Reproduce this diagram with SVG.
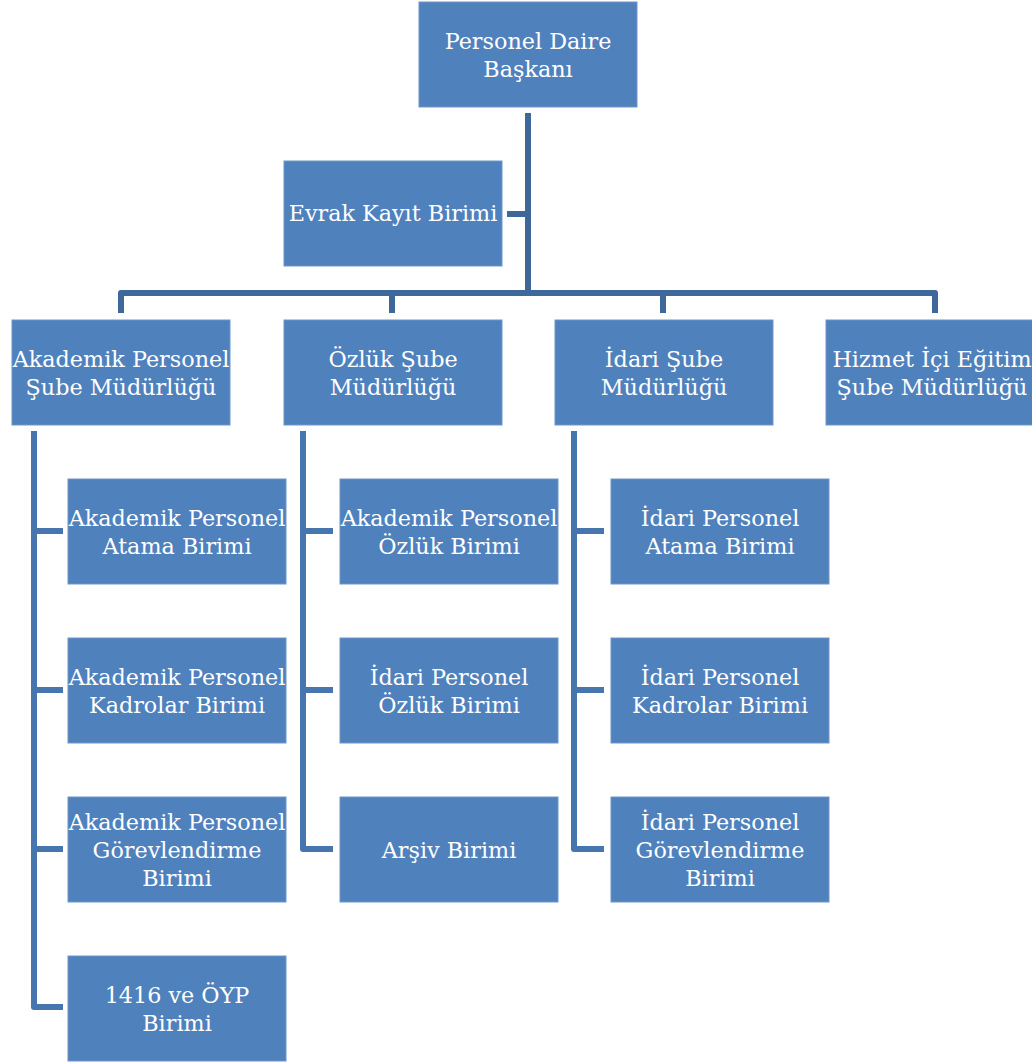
<svg xmlns="http://www.w3.org/2000/svg" width="1032" height="1063" viewBox="0 0 1032 1063">
<style>
.box{fill:#4F81BD;stroke:#6E96C8;stroke-width:1}
.t{font-family:"DejaVu Serif","Liberation Serif",serif;font-size:22.3px;fill:#FFFFFF;text-anchor:middle}
.c1{fill:none;stroke:#3E6899;stroke-width:6;stroke-linejoin:round}
.c2{fill:none;stroke:#4775AE;stroke-width:6;stroke-linejoin:round}
</style>
<rect width="1032" height="1063" fill="#FFFFFF"/>
<g id="connectors">
<path class="c1" d="M528 113V293"/>
<path class="c1" d="M507 214H528"/>
<path class="c1" d="M121 313V293H935V313"/>
<path class="c1" d="M392 293V313"/>
<path class="c1" d="M663 293V313"/>
<path class="c2" d="M34 431V1007H63"/>
<path class="c2" d="M34 531H63M34 690H63M34 849H63"/>
<path class="c2" d="M303 431V849H333"/>
<path class="c2" d="M303 531H333M303 690H333"/>
<path class="c2" d="M574 431V849H604"/>
<path class="c2" d="M574 531H604M574 690H604"/>
</g>
<g id="n-baskan"><rect class="box" x="419" y="2" width="218" height="105"/><text class="t" x="528" y="49">Personel Daire</text><text class="t" x="528" y="77">Başkanı</text></g>
<g id="n-evrak"><rect class="box" x="284" y="161" width="218" height="105"/><text class="t" x="393" y="221">Evrak Kayıt Birimi</text></g>
<g id="n-akademik"><rect class="box" x="12" y="320" width="218" height="105"/><text class="t" x="121" y="367">Akademik Personel</text><text class="t" x="121" y="395">Şube Müdürlüğü</text></g>
<g id="n-ozluk"><rect class="box" x="284" y="320" width="218" height="105"/><text class="t" x="393" y="367">Özlük Şube</text><text class="t" x="393" y="395">Müdürlüğü</text></g>
<g id="n-idari"><rect class="box" x="555" y="320" width="218" height="105"/><text class="t" x="664" y="367">İdari Şube</text><text class="t" x="664" y="395">Müdürlüğü</text></g>
<g id="n-hizmet"><rect class="box" x="826" y="320" width="218" height="105"/><text class="t" x="932" y="367">Hizmet İçi Eğitim</text><text class="t" x="932" y="395">Şube Müdürlüğü</text></g>
<g id="n-ap-atama"><rect class="box" x="68" y="479" width="218" height="105"/><text class="t" x="177" y="526">Akademik Personel</text><text class="t" x="177" y="554">Atama Birimi</text></g>
<g id="n-ap-kadro"><rect class="box" x="68" y="638" width="218" height="105"/><text class="t" x="177" y="685">Akademik Personel</text><text class="t" x="177" y="713">Kadrolar Birimi</text></g>
<g id="n-ap-gorev"><rect class="box" x="68" y="797" width="218" height="105"/><text class="t" x="177" y="830">Akademik Personel</text><text class="t" x="177" y="858">Görevlendirme</text><text class="t" x="177" y="886">Birimi</text></g>
<g id="n-1416"><rect class="box" x="68" y="956" width="218" height="105"/><text class="t" x="177" y="1003">1416 ve ÖYP</text><text class="t" x="177" y="1031">Birimi</text></g>
<g id="n-ap-ozluk"><rect class="box" x="340" y="479" width="218" height="105"/><text class="t" x="449" y="526">Akademik Personel</text><text class="t" x="449" y="554">Özlük Birimi</text></g>
<g id="n-ip-ozluk"><rect class="box" x="340" y="638" width="218" height="105"/><text class="t" x="449" y="685">İdari Personel</text><text class="t" x="449" y="713">Özlük Birimi</text></g>
<g id="n-arsiv"><rect class="box" x="340" y="797" width="218" height="105"/><text class="t" x="449" y="858">Arşiv Birimi</text></g>
<g id="n-ip-atama"><rect class="box" x="611" y="479" width="218" height="105"/><text class="t" x="720" y="526">İdari Personel</text><text class="t" x="720" y="554">Atama Birimi</text></g>
<g id="n-ip-kadro"><rect class="box" x="611" y="638" width="218" height="105"/><text class="t" x="720" y="685">İdari Personel</text><text class="t" x="720" y="713">Kadrolar Birimi</text></g>
<g id="n-ip-gorev"><rect class="box" x="611" y="797" width="218" height="105"/><text class="t" x="720" y="830">İdari Personel</text><text class="t" x="720" y="858">Görevlendirme</text><text class="t" x="720" y="886">Birimi</text></g>
</svg>
